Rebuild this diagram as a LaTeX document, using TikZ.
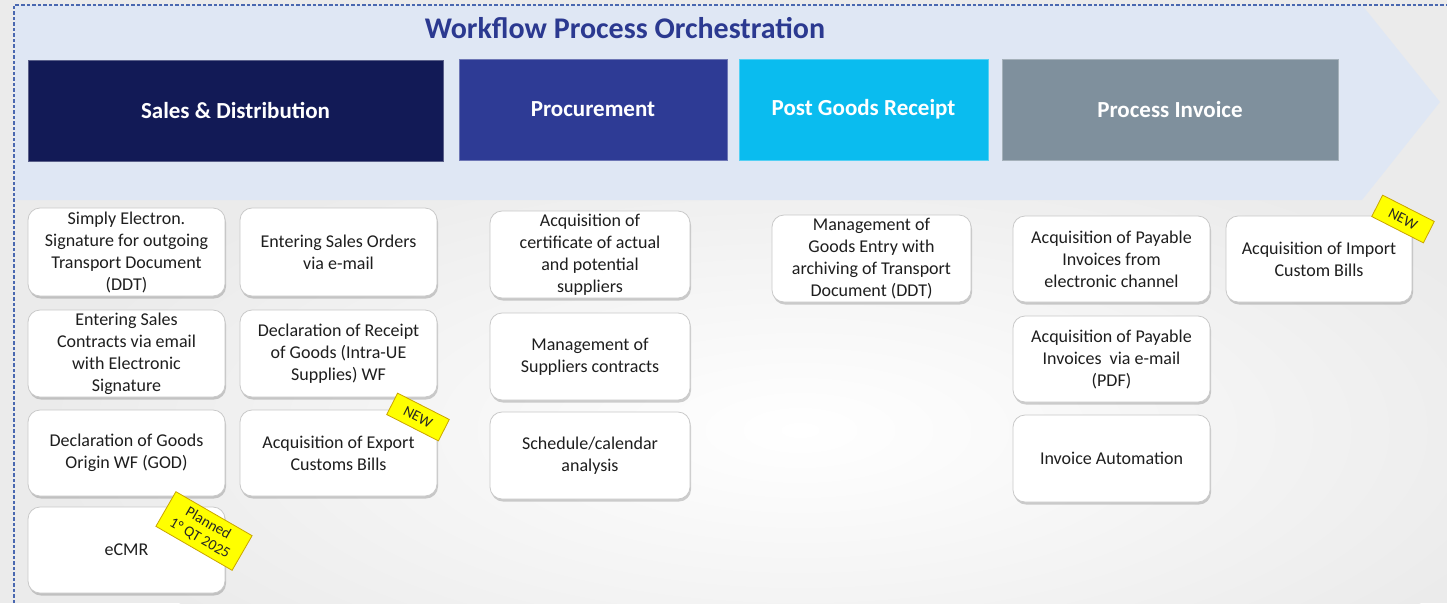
\documentclass[tikz,border=0pt]{standalone}
\usepackage{fontspec}
\setmainfont{Carlito}
\usetikzlibrary{shadows}
\definecolor{bggray}{HTML}{EBEBEB}
\definecolor{bannercol}{HTML}{DFE7F4}
\definecolor{dashcol}{HTML}{4A68B0}
\definecolor{titlecol}{HTML}{2B3990}
\definecolor{sdcol}{HTML}{121A56}
\definecolor{procol}{HTML}{2E3B95}
\definecolor{pgrcol}{HTML}{0ABCEF}
\definecolor{picol}{HTML}{7F909D}
\definecolor{cardborder}{HTML}{C9C9C9}
\definecolor{cardtext}{HTML}{1E1E1E}
\definecolor{tagfill}{HTML}{FFFF00}
\definecolor{tagborder}{HTML}{C9A400}
\newcommand{\cardfont}{\fontsize{18}{22}\selectfont}
\begin{document}
\begin{tikzpicture}[x=1pt,y=-1pt,
  hdr/.style={fill=#1, draw=#1!70!white, text=white, font=\fontsize{23}{26}\selectfont\bfseries, minimum height=101pt, inner sep=0pt},
  card/.style={draw=cardborder, fill=white, rounded corners=12pt, align=center, text=cardtext, font=\cardfont, inner sep=2pt, line width=0.8pt,
    drop shadow={shadow xshift=1pt, shadow yshift=-2.5pt, opacity=0.18, fill=black}},
  tagbox/.style={fill=tagfill, draw=tagborder, line width=0.8pt, text=black!85, align=center, inner sep=1pt, font=\fontsize{15}{17}\selectfont}
]
\useasboundingbox (0,0) rectangle (1447,603);
\fill[bggray] (0,0) rectangle (1447,603);
\shade[inner color=white, outer color=bggray] (800,430) ellipse [x radius=760pt, y radius=300pt];
% banner arrow
\fill[bannercol] (15,5) -- (1362,5) -- (1440,102) -- (1362,200) -- (15,200) -- cycle;
% dashed frame
\draw[dashcol, line width=1.2pt, dash pattern=on 3.5pt off 2pt] (14,603) -- (14,5) -- (1447,5);
% title
\node[text=titlecol, font=\fontsize{30}{34}\selectfont\bfseries] (title) at (625,28) {Workflow Process Orchestration};
% headers
\node[hdr=sdcol, minimum width=415pt] (sd) at (235.5,110.5) {Sales \& Distribution};
\node[hdr=procol, minimum width=268pt] (pro) at (593,109.5) {Procurement};
\node[hdr=pgrcol, minimum width=249pt] (pgr) at (863.5,109.5) {Post Goods Receipt};
\node[hdr=picol, minimum width=336pt] (pi) at (1170,109.5) {Process Invoice};
% Sales & Distribution cards
\node[card, minimum width=197pt, minimum height=88pt] (s11) at (126.5,252) {Simply Electron.\\Signature for outgoing\\Transport Document\\(DDT)};
\node[card, minimum width=197pt, minimum height=87pt] (s12) at (126.5,353.5) {Entering Sales\\Contracts via email\\with Electronic\\Signature};
\node[card, minimum width=197pt, minimum height=86pt] (s13) at (126.5,453) {Declaration of Goods\\Origin WF (GOD)};
\node[card, minimum width=197pt, minimum height=86pt] (s14) at (126.5,550) {eCMR};
\node[card, minimum width=197pt, minimum height=88pt] (s21) at (338.5,252) {Entering Sales Orders\\via e-mail};
\node[card, minimum width=197pt, minimum height=87pt] (s22) at (338.5,353.5) {Declaration of Receipt\\of Goods (Intra-UE\\Supplies) WF};
\node[card, minimum width=197pt, minimum height=86pt] (s23) at (338.5,453) {Acquisition of Export\\Customs Bills};
% Procurement cards
\node[card, minimum width=200pt, minimum height=87pt] (p1) at (590,254.5) {Acquisition of\\certificate of actual\\and potential\\suppliers};
\node[card, minimum width=200pt, minimum height=87pt] (p2) at (590,356.5) {Management of\\Suppliers contracts};
\node[card, minimum width=200pt, minimum height=87pt] (p3) at (590,455.5) {Schedule/calendar\\analysis};
% Post Goods Receipt card
\node[card, minimum width=199pt, minimum height=87pt] (g1) at (871.5,258.5) {Management of\\Goods Entry with\\archiving of Transport\\Document (DDT)};
% Process Invoice cards
\node[card, minimum width=197pt, minimum height=86pt] (i11) at (1111.5,259) {Acquisition of Payable\\Invoices from\\electronic channel};
\node[card, minimum width=197pt, minimum height=86pt] (i12) at (1111.5,359) {Acquisition of Payable\\Invoices\ \ via e-mail\\(PDF)};
\node[card, minimum width=197pt, minimum height=87pt] (i13) at (1111.5,458.5) {Invoice Automation};
\node[card, minimum width=186pt, minimum height=86pt] (i21) at (1319,259) {Acquisition of Import\\Custom Bills};
% tags
\node[tagbox, minimum width=58pt, minimum height=24pt, rotate=-27] (tag1) at (1403,219) {NEW};
\node[tagbox, minimum width=58pt, minimum height=24pt, rotate=-27] (tag2) at (418,417) {NEW};
\node[tagbox, minimum width=88pt, minimum height=40pt, rotate=-30] (tag3) at (204,531) {Planned\\1° QT 2025};
\end{tikzpicture}
\end{document}
